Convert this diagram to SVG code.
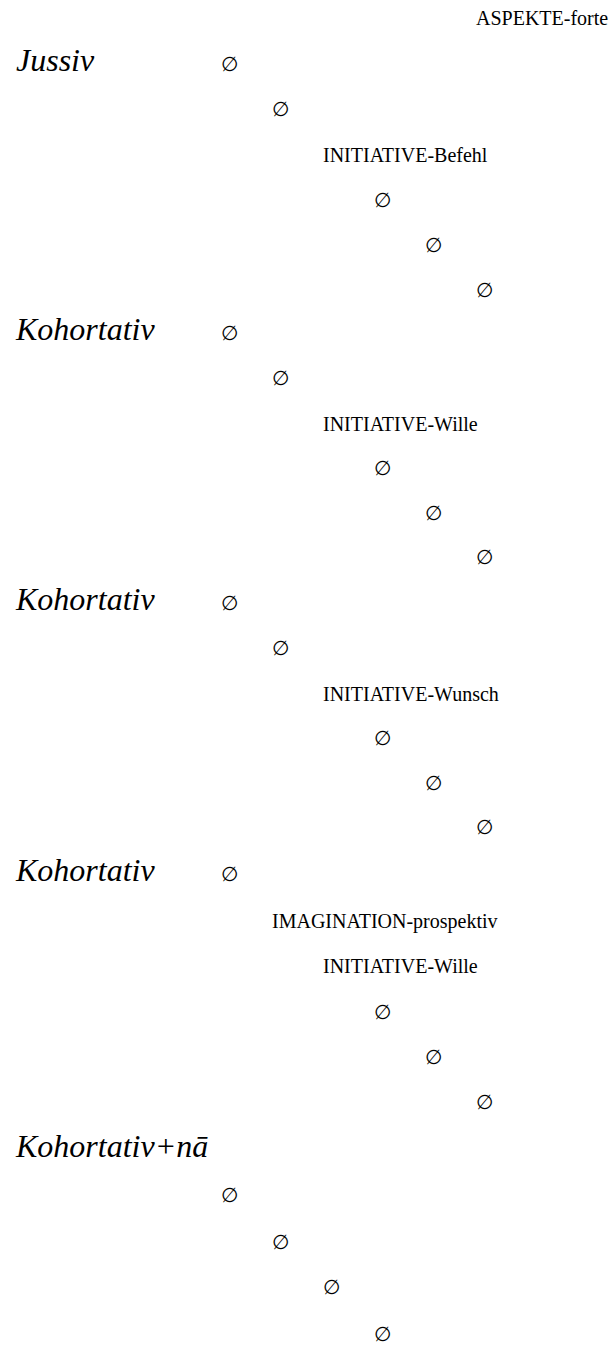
<svg xmlns="http://www.w3.org/2000/svg" width="616" height="1345" viewBox="0 0 616 1345">
<style>
text{fill:#000}
.lab{font-family:"Liberation Serif","Times New Roman",serif;font-size:20px}
.big{font-family:"Liberation Serif","Times New Roman",serif;font-size:32px;font-style:italic}
.nul{font-family:"Liberation Serif","DejaVu Serif",serif;font-size:20px}
</style>
<rect width="616" height="1345" fill="#fff"/>
<g id="connectors"/>
<g id="n-aspekte"><text class="lab" x="476" y="25">ASPEKTE-forte</text></g>
<g id="n-jussiv"><text class="big" x="16" y="71">Jussiv</text></g>
<g id="n-z1"><text class="nul" x="221" y="71">∅</text></g>
<g id="n-z2"><text class="nul" x="272" y="116">∅</text></g>
<g id="n-befehl"><text class="lab" x="323" y="161.5">INITIATIVE-Befehl</text></g>
<g id="n-z3"><text class="nul" x="374" y="207">∅</text></g>
<g id="n-z4"><text class="nul" x="425" y="252">∅</text></g>
<g id="n-z5"><text class="nul" x="476" y="297">∅</text></g>
<g id="n-kohort1"><text class="big" x="16" y="340">Kohortativ</text></g>
<g id="n-z6"><text class="nul" x="221" y="340">∅</text></g>
<g id="n-z7"><text class="nul" x="272" y="384.5">∅</text></g>
<g id="n-wille1"><text class="lab" x="323" y="430.5">INITIATIVE-Wille</text></g>
<g id="n-z8"><text class="nul" x="374" y="475">∅</text></g>
<g id="n-z9"><text class="nul" x="425" y="519.5">∅</text></g>
<g id="n-z10"><text class="nul" x="476" y="564">∅</text></g>
<g id="n-kohort2"><text class="big" x="16" y="610">Kohortativ</text></g>
<g id="n-z11"><text class="nul" x="221" y="610">∅</text></g>
<g id="n-z12"><text class="nul" x="272" y="654.5">∅</text></g>
<g id="n-wunsch"><text class="lab" x="323" y="700.5">INITIATIVE-Wunsch</text></g>
<g id="n-z13"><text class="nul" x="374" y="745">∅</text></g>
<g id="n-z14"><text class="nul" x="425" y="789.5">∅</text></g>
<g id="n-z15"><text class="nul" x="476" y="834">∅</text></g>
<g id="n-kohort3"><text class="big" x="16" y="881">Kohortativ</text></g>
<g id="n-z16"><text class="nul" x="221" y="881">∅</text></g>
<g id="n-imag"><text class="lab" x="272" y="928">IMAGINATION-prospektiv</text></g>
<g id="n-wille2"><text class="lab" x="323" y="973">INITIATIVE-Wille</text></g>
<g id="n-z17"><text class="nul" x="374" y="1019">∅</text></g>
<g id="n-z18"><text class="nul" x="425" y="1064">∅</text></g>
<g id="n-z19"><text class="nul" x="476" y="1109">∅</text></g>
<g id="n-kohort4"><text class="big" x="16" y="1157">Kohortativ+nā</text></g>
<g id="n-z20"><text class="nul" x="221" y="1202">∅</text></g>
<g id="n-z21"><text class="nul" x="272" y="1249">∅</text></g>
<g id="n-z22"><text class="nul" x="323" y="1294">∅</text></g>
<g id="n-z23"><text class="nul" x="374" y="1341">∅</text></g>
</svg>
